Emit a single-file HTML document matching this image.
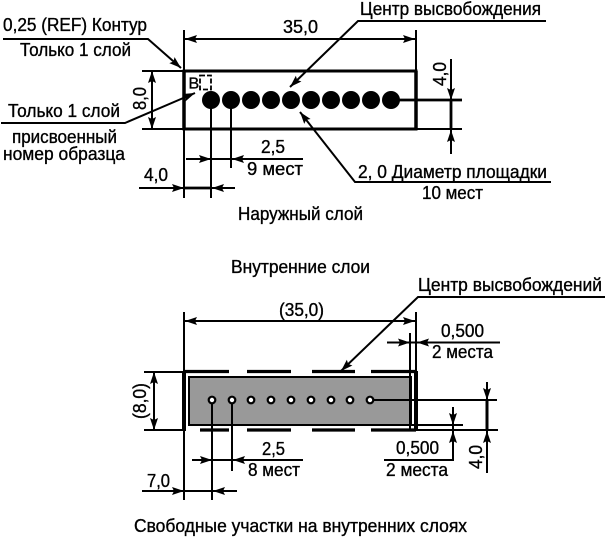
<!DOCTYPE html>
<html><head><meta charset="utf-8">
<style>
html,body{margin:0;padding:0;background:#fff}
svg{display:block}
text{font-family:"Liberation Sans",sans-serif;font-size:18px;fill:#000;stroke:#000;stroke-width:.35px}
</style></head><body>
<svg width="605" height="538" viewBox="0 0 605 538" xmlns="http://www.w3.org/2000/svg">
<defs>
<g id="ar"><path d="M0 0L-12 -4L-10 0L-12 4Z" fill="#000"/></g>
</defs>
<!-- TOP -->
<g stroke="#000" fill="none" stroke-width="2">
<path d="M184 30V198M416 30V71M184 39H415M142 71H184M142 129H184M152 71V129"/>
<path d="M3 39H148L181 68M1 123H125L195 93M546 21H358L290 87M551 182H355L300 112"/>
<path d="M211 100V198M231 100V168M186 159H303M139 188H235M451 59V154M416 129H462"/>
</g>
<path d="M184 71H416V129H184Z" fill="none" stroke="#000" stroke-width="3"/>
<path d="M184 71V129M416 71V129" stroke="#000" stroke-width="3.500" fill="none"/>
<path d="M184 188H211M391 100H462M451 100V129" stroke="#000" stroke-width="2.800" fill="none"/>
<g fill="#000">
<circle cx="211" cy="100" r="9"/><circle cx="231" cy="100" r="9"/><circle cx="251" cy="100" r="9"/><circle cx="271" cy="100" r="9"/><circle cx="291" cy="100" r="9"/><circle cx="311" cy="100" r="9"/><circle cx="331" cy="100" r="9"/><circle cx="351" cy="100" r="9"/><circle cx="371" cy="100" r="9"/><circle cx="391" cy="100" r="9"/>
</g>
<rect x="200" y="75.500" width="11" height="14" fill="none" stroke="#000" stroke-width="1.800" stroke-dasharray="5 2"/>
<use href="#ar" transform="translate(185,39) rotate(180)"/>
<use href="#ar" transform="translate(415,39)"/>
<use href="#ar" transform="translate(152,71) rotate(-90)"/>
<use href="#ar" transform="translate(152,129) rotate(90)"/>
<use href="#ar" transform="translate(451,100) rotate(90)"/>
<use href="#ar" transform="translate(451,130) rotate(-90)"/>
<use href="#ar" transform="translate(211,159)"/>
<use href="#ar" transform="translate(232,159) rotate(180)"/>
<use href="#ar" transform="translate(184,188)"/>
<use href="#ar" transform="translate(212,188) rotate(180)"/>
<use href="#ar" transform="translate(181,68) rotate(41)"/>
<use href="#ar" transform="translate(195,93) rotate(-23)"/>
<use href="#ar" transform="translate(290,87) rotate(136)"/>
<use href="#ar" transform="translate(300,112) rotate(-128)"/>
<text x="3" y="31" textLength="144" lengthAdjust="spacingAndGlyphs">0,25 (REF) Контур</text>
<text x="20" y="56" textLength="111" lengthAdjust="spacingAndGlyphs">Только 1 слой</text>
<text x="8" y="117" textLength="112" lengthAdjust="spacingAndGlyphs">Только 1 слой</text>
<text x="12" y="143" textLength="105" lengthAdjust="spacingAndGlyphs">присвоенный</text>
<text x="3" y="160" textLength="122" lengthAdjust="spacingAndGlyphs">номер образца</text>
<text x="188.500" y="88.500" style="font-size:16px">B</text>
<text x="283" y="33" textLength="35" lengthAdjust="spacingAndGlyphs">35,0</text>
<text x="360" y="15" textLength="181" lengthAdjust="spacingAndGlyphs">Центр высвобождения</text>
<text x="358" y="178" textLength="189" lengthAdjust="spacingAndGlyphs">2, 0 Диаметр площадки</text>
<text x="422" y="199" textLength="61" lengthAdjust="spacingAndGlyphs">10 мест</text>
<text x="261" y="153" textLength="24" lengthAdjust="spacingAndGlyphs">2,5</text>
<text x="247" y="175" textLength="56" lengthAdjust="spacingAndGlyphs">9 мест</text>
<text x="144" y="181" textLength="24" lengthAdjust="spacingAndGlyphs">4,0</text>
<text transform="translate(146,110) rotate(-90)" textLength="23" lengthAdjust="spacingAndGlyphs">8,0</text>
<text transform="translate(446,86) rotate(-90)" textLength="24" lengthAdjust="spacingAndGlyphs">4,0</text>
<text x="238" y="220" textLength="125" lengthAdjust="spacingAndGlyphs">Наружный слой</text>
<text x="231" y="273" textLength="139" lengthAdjust="spacingAndGlyphs">Внутренние слои</text>
<!-- BOTTOM -->
<rect x="189" y="377" width="222" height="48" fill="#999" stroke="#000" stroke-width="2"/>
<g stroke="#000" fill="none" stroke-width="2">
<path d="M184 312V500M416 312V371M410 333V430M184 321H415M144 372H184M144 430H184M154 372V430"/>
<path d="M605 297H418L341 371"/>
<path d="M212 400V500M232 400V471M192 460H303M142 491H237M387 342.500H500M411 425H463M384 460H453V407M487 382V473M416 430H498M370 400H497"/>
</g>
<path d="M487 400V430" stroke="#000" stroke-width="3"/>
<path d="M184 371V431" stroke="#000" stroke-width="4"/>
<path d="M416 371V431" stroke="#000" stroke-width="4"/>
<g stroke="#000" stroke-width="3.200" fill="none">
<path d="M184 371.500H229M247 371.500H291M312 371.500H355M371 371.500H416"/>
<path d="M200 430H229M247 430H291M312 430H355M371 430H416"/>
</g>
<g fill="#fff" stroke="#000" stroke-width="2.200">
<circle cx="212" cy="400" r="3.300"/><circle cx="232" cy="400" r="3.300"/><circle cx="251" cy="400" r="3.300"/><circle cx="271" cy="400" r="3.300"/><circle cx="291" cy="400" r="3.300"/><circle cx="311" cy="400" r="3.300"/><circle cx="331" cy="400" r="3.300"/><circle cx="350" cy="400" r="3.300"/><circle cx="370" cy="400" r="3.300"/>
</g>
<use href="#ar" transform="translate(185,321) rotate(180)"/>
<use href="#ar" transform="translate(415,321)"/>
<use href="#ar" transform="translate(154,372) rotate(-90)"/>
<use href="#ar" transform="translate(154,430) rotate(90)"/>
<use href="#ar" transform="translate(212,460)"/>
<use href="#ar" transform="translate(233,460) rotate(180)"/>
<use href="#ar" transform="translate(184,491)"/>
<use href="#ar" transform="translate(213,491) rotate(180)"/>
<use href="#ar" transform="translate(410,342.500)"/>
<use href="#ar" transform="translate(417,342.500) rotate(180)"/>
<use href="#ar" transform="translate(453,425) rotate(90)"/>
<use href="#ar" transform="translate(453,431) rotate(-90)"/>
<use href="#ar" transform="translate(487,400) rotate(90)"/>
<use href="#ar" transform="translate(487,431) rotate(-90)"/>
<use href="#ar" transform="translate(341,371) rotate(136)"/>
<text x="279" y="316" textLength="45" lengthAdjust="spacingAndGlyphs">(35,0)</text>
<text x="418" y="291" textLength="184" lengthAdjust="spacingAndGlyphs">Центр высвобождений</text>
<text x="441" y="337" textLength="43" lengthAdjust="spacingAndGlyphs">0,500</text>
<text x="432" y="358" textLength="61" lengthAdjust="spacingAndGlyphs">2 места</text>
<text x="396" y="454" textLength="43" lengthAdjust="spacingAndGlyphs">0,500</text>
<text x="386" y="476" textLength="62" lengthAdjust="spacingAndGlyphs">2 места</text>
<text x="262" y="455" textLength="23" lengthAdjust="spacingAndGlyphs">2,5</text>
<text x="248" y="476" textLength="52" lengthAdjust="spacingAndGlyphs">8 мест</text>
<text x="147" y="487" textLength="23" lengthAdjust="spacingAndGlyphs">7,0</text>
<text transform="translate(146,419) rotate(-90)" textLength="36" lengthAdjust="spacingAndGlyphs">(8,0)</text>
<text transform="translate(482,469) rotate(-90)" textLength="24" lengthAdjust="spacingAndGlyphs">4,0</text>
<text x="134" y="532" textLength="333" lengthAdjust="spacingAndGlyphs">Свободные участки на внутренних слоях</text>
</svg>
</body></html>
